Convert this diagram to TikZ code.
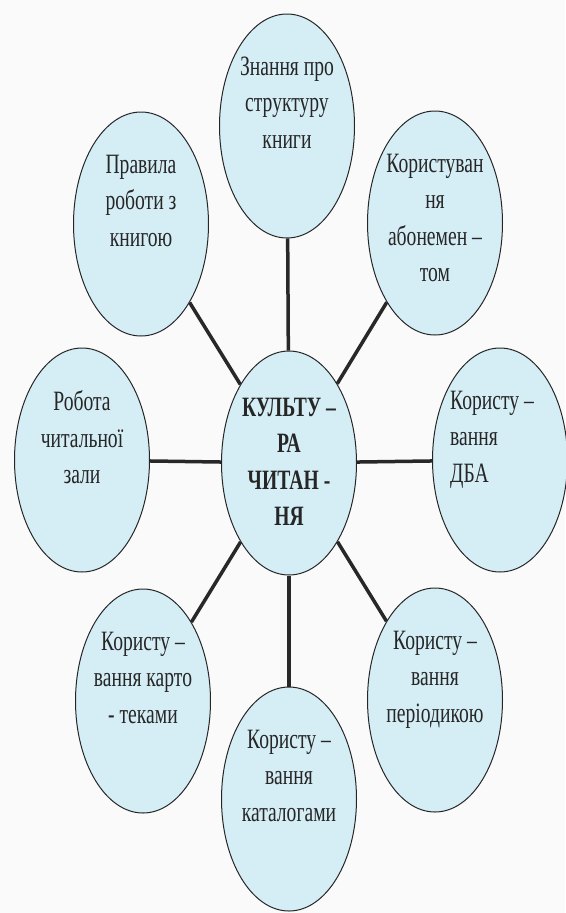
\documentclass[tikz,border=0pt]{standalone}
\usepackage{fontspec}
\setmainfont{Liberation Serif}[FakeStretch=0.7]
\usetikzlibrary{
	positioning,
	shapes.geometric
}
\definecolor{bubblefill}{RGB}{213,238,246}
\definecolor{linkgray}{RGB}{40,40,40}

\begin{document}
\begin{tikzpicture}[
		x=1pt, y=-1pt,
		node distance = 43pt,
		bubble/.style={
			draw=black!85,
			ellipse,
			fill=bubblefill,
			line width=1pt,
			minimum width = 135pt,
			minimum height = 224pt,
			inner sep=0pt
		},
		caption/.style={
			inner sep=0pt,
			align=center,
			text=black!85,
			font=\fontsize{28}{36.5}\selectfont
		},
		link/.style={
			draw=linkgray,
			line width=3.5pt}
		]
		
		\useasboundingbox (0,0) rectangle (565,913);
		\fill[black!2] (0,0) rectangle (565,913);
		
		\node[bubble] (A) at (289,463) {};
		\node[bubble] (B) at (287,126) {};
		\node[bubble] (C) at (141,224) {};
		\node[bubble] (D) at (435,223) {};
		\node[bubble] (E) at (82,460) {};
		\node[bubble] (F) at (500,460) {};
		\node[bubble] (G) at (143,701) {};
		\node[bubble] (H) at (289,799) {};
		\node[bubble] (I) at (435,700) {};
		
		\foreach \outer in {B,C,D,E,F,G,H,I}
			\draw[link] (A) -- (\outer);
		
		\node[caption, below = 47pt of A.north, font=\fontsize{28}{36.5}\selectfont\bfseries] (A-txt) {КУЛЬТУ –\\РА\\ЧИТАН -\\НЯ};
		\node[caption, below = of B.north] (B-txt) {Знання про\\структуру\\книги};
		\node[caption, below = of C.north] (C-txt) {Правила\\роботи з\\книгою};
		\node[caption, below = of D.north] (D-txt) {Користуван\\ня\\абонемен –\\том};
		\node[caption, below = of E.north] (E-txt) {Робота\\читальної\\зали};
		\node[caption, below = of F.north, xshift=-8pt, align=left] (F-txt) {Користу –\\вання\\ДБА};
		\node[caption, below = of G.north] (G-txt) {Користу –\\вання карто\\- теками};
		\node[caption, below = of H.north] (H-txt) {Користу –\\вання\\каталогами};
		\node[caption, below = of I.north] (I-txt) {Користу –\\вання\\періодикою};
	\end{tikzpicture}
\end{document}
